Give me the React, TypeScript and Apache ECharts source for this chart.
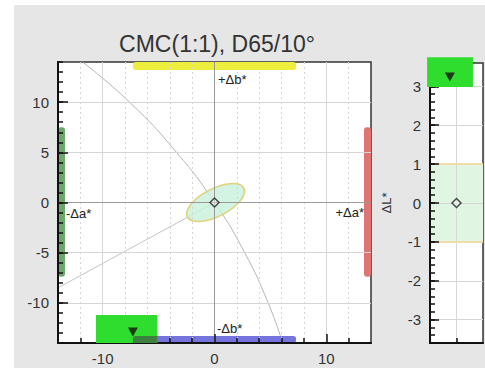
import React, { useEffect, useRef } from "react";
import * as echarts from "echarts";

// ---------- data ----------
const TITLE = "CMC(1:1), D65/10°";
// Δa*/Δb* plane
const AB_MIN = -14;
const AB_MAX = 14;
const X_MAJOR = [-10, 0, 10];
const X_MINOR = [-12, -8, -6, -4, -2, 2, 4, 6, 8, 12];
const Y_MAJOR = [-10, -5, 0, 5, 10];
const SAMPLE_AB = [0, 0];
// constant-chroma arc
const ARC_X = [-11.8, -7.6, -3.4, 0, 2.7, 4.8, 6.1];
const ARC_Y = [14, 10, 5, 0, -5, -10, -14];
// hue line towards the a*b* origin
const HUE_X = [-14, 0];
const HUE_Y = [-8.5, 0];
// tolerance ellipse
const ELLIPSE_CENTER = [0.1, 0];
const ELLIPSE_SEMI = [2.9, 1.35];
const ELLIPSE_ANGLE_DEG = 31;
// direction bars: side 0=+Δb* (top) 1=-Δb* (bottom) 2=-Δa* (left) 3=+Δa* (right)
const BAR_LO = [-7.3, -7.3, -7.4, -7.4];
const BAR_HI = [7.3, 7.3, 7.5, 7.5];
const DIR_LABELS = ["+Δb*", "-Δb*", "-Δa*", "+Δa*"];
// fail box & point in plane: [x0, x1, y0, y1]
const FAIL_BOX_AB = [-10.6, -5.1, -14, -11.2];
const FAIL_POINT_AB = [-7.3, -12.9];
// ΔL* panel
const L_MIN = -3.6;
const L_MAX = 3.6;
const L_MAJOR = [-3, -2, -1, 0, 1, 2, 3];
const L_TOL = [-1, 1];
const SAMPLE_L = [0, 0];
const FAIL_BOX_L = [-1.11, 0.62, 2.98, 3.75];
const FAIL_POINT_L = [-0.25, 3.24];

// ---------- style ----------
const FONT = "'Liberation Sans', Arial, sans-serif";
const G1 = { left: 58, top: 62, width: 313, height: 281 };
const G2 = { left: 430, top: 63, width: 53, height: 280 };
const BAR_T = [8, 7, 7, 7];
const BAR_COLORS = ["#eeee3c", "#7474dc", "#6aa86c", "#e07474"];
const AXIS_DARK = "#111";
const GRID_LINE = "#d6d6d6";

export default function App() {
  const ref = useRef<HTMLDivElement>(null);
  useEffect(() => {
    document.body.style.margin = "0";
    if (!ref.current) return;
    const chart = echarts.init(ref.current, undefined, { renderer: "svg" });

    const axisLabel = (vals: number[]) => ({
      customValues: vals,
      fontSize: 15,
      color: "#333",
      fontFamily: FONT,
      margin: 8,
    });
    const dirText = (text: string, x: number, y: number, align: string) => ({
      type: "text", x, y, z: 10,
      style: { text, fontSize: 13, fill: "#222", align, verticalAlign: "middle", fontFamily: FONT },
    });

    const option: any = {
      animation: false,
      backgroundColor: "#ffffff",
      graphic: [
        { type: "rect", z: -10, shape: { x: 14, y: 5, width: 471, height: 363 }, style: { fill: "#e6e6e6" } },
        {
          type: "text", x: 217, y: 44, z: 10,
          style: { text: TITLE, fontSize: 23, fill: "#333", align: "center", verticalAlign: "middle", fontFamily: FONT },
        },
        dirText(DIR_LABELS[0], 218, 79, "left"),
        dirText(DIR_LABELS[1], 217, 328, "left"),
        dirText(DIR_LABELS[2], 66, 213, "left"),
        dirText(DIR_LABELS[3], 364, 212, "right"),
      ],
      grid: [
        { ...G1, show: true, backgroundColor: "#fff", borderColor: "#333", borderWidth: 1.5 },
        { ...G2, show: true, backgroundColor: "#fff", borderColor: "#333", borderWidth: 1.5 },
      ],
      xAxis: [
        {
          gridIndex: 0, type: "value", position: "bottom", min: AB_MIN, max: AB_MAX, z: 5,
          axisLine: { show: true, onZero: false, lineStyle: { color: AXIS_DARK, width: 2 } },
          axisTick: { show: true, customValues: X_MAJOR, inside: true, length: 9, lineStyle: { color: AXIS_DARK, width: 1.5 } },
          axisLabel: axisLabel(X_MAJOR),
          splitLine: { show: true, lineStyle: { color: GRID_LINE, width: 1 } },
        },
        {
          gridIndex: 0, type: "value", position: "bottom", min: AB_MIN, max: AB_MAX, z: 5,
          axisLine: { show: false, onZero: false },
          axisTick: { show: true, customValues: X_MINOR, inside: true, length: 5, lineStyle: { color: AXIS_DARK, width: 1.5 } },
          axisLabel: { show: false },
          splitLine: { show: true, lineStyle: { color: GRID_LINE, width: 1, type: [2, 3] } },
        },
        {
          gridIndex: 1, type: "value", position: "bottom", min: -1, max: 1, z: 5,
          axisLine: { show: true, onZero: false, lineStyle: { color: AXIS_DARK, width: 2 } },
          axisTick: { show: true, customValues: [0], inside: true, length: 5, lineStyle: { color: AXIS_DARK, width: 1.5 } },
          axisLabel: { show: false },
          splitLine: { show: true, lineStyle: { color: GRID_LINE, width: 1 } },
        },
      ],
      yAxis: [
        {
          gridIndex: 0, type: "value", position: "left", min: AB_MIN, max: AB_MAX, z: 5,
          axisLine: { show: true, onZero: false, lineStyle: { color: AXIS_DARK, width: 2 } },
          axisTick: { show: true, customValues: Y_MAJOR, inside: true, length: 10, lineStyle: { color: AXIS_DARK, width: 1.5 } },
          axisLabel: { ...axisLabel(Y_MAJOR), margin: 9 },
          splitLine: { show: true, lineStyle: { color: GRID_LINE, width: 1 } },
        },
        {
          gridIndex: 0, type: "value", position: "left", min: AB_MIN, max: AB_MAX, interval: 1, z: 5,
          axisLine: { show: false, onZero: false },
          axisTick: { show: true, inside: true, length: 5, lineStyle: { color: AXIS_DARK, width: 1.5 } },
          axisLabel: { show: false },
          splitLine: { show: false },
        },
        {
          gridIndex: 1, type: "value", position: "left", min: L_MIN, max: L_MAX, z: 5,
          name: "ΔL*", nameLocation: "middle", nameGap: 37, nameRotate: 90,
          nameTextStyle: { fontSize: 13, color: "#333", fontFamily: FONT },
          axisLine: { show: true, onZero: false, lineStyle: { color: AXIS_DARK, width: 2 } },
          axisTick: { show: true, customValues: L_MAJOR, inside: true, length: 9, lineStyle: { color: AXIS_DARK, width: 1.5 } },
          axisLabel: { ...axisLabel(L_MAJOR), margin: 9 },
          splitLine: { show: true, lineStyle: { color: GRID_LINE, width: 1 } },
        },
        {
          gridIndex: 1, type: "value", position: "left", min: L_MIN, max: L_MAX, interval: 0.2, z: 5,
          axisLine: { show: false, onZero: false },
          axisTick: { show: true, inside: true, length: 5, lineStyle: { color: AXIS_DARK, width: 1.5 } },
          axisLabel: { show: false },
          splitLine: { show: false },
        },
      ],
      series: [
        // chroma arc
        {
          type: "line", xAxisIndex: 0, yAxisIndex: 0, smooth: true, symbol: "none",
          data: ARC_X.map((x, i) => [x, ARC_Y[i]]),
          lineStyle: { color: "#b5b5b5", width: 1 }, z: 1,
        },
        // hue line
        {
          type: "line", xAxisIndex: 0, yAxisIndex: 0, symbol: "none",
          data: HUE_X.map((x, i) => [x, HUE_Y[i]]),
          lineStyle: { color: "#c4c4c4", width: 1 }, z: 1,
        },
        // direction bars
        {
          type: "custom", xAxisIndex: 0, yAxisIndex: 0, z: 2,
          data: BAR_LO.map((lo, i) => [lo, BAR_HI[i], i]),
          renderItem: (params: any, api: any) => {
            const cs = params.coordSys;
            const lo = api.value(0), hi = api.value(1), side = api.value(2);
            let shape: any;
            if (side === 0 || side === 1) {
              const a = api.coord([lo, 0])[0], b = api.coord([hi, 0])[0];
              const y = side === 0 ? cs.y : cs.y + cs.height - BAR_T[side];
              shape = { x: a, y, width: b - a, height: BAR_T[side], r: 3 };
            } else {
              const a = api.coord([0, hi])[1], b = api.coord([0, lo])[1];
              const x = side === 2 ? cs.x : cs.x + cs.width - BAR_T[side];
              shape = { x, y: a, width: BAR_T[side], height: b - a, r: 3 };
            }
            return { type: "rect", shape, style: { fill: BAR_COLORS[side] } };
          },
        },
        // zero lines
        {
          type: "line", xAxisIndex: 0, yAxisIndex: 0, data: [], z: 3,
          markLine: {
            silent: true, symbol: "none", label: { show: false },
            lineStyle: { color: "#9a9a9a", width: 1, type: "solid" },
            data: [{ xAxis: 0 }, { yAxis: 0 }],
          },
        },
        // tolerance ellipse
        {
          type: "custom", xAxisIndex: 0, yAxisIndex: 0, z: 4,
          data: [ELLIPSE_CENTER],
          renderItem: (params: any, api: any) => {
            const c = api.coord([api.value(0), api.value(1)]);
            const s = api.size([1, 1]);
            return {
              type: "group", x: c[0], y: c[1], scaleX: s[0], scaleY: s[1],
              children: [
                {
                  type: "ellipse",
                  rotation: (ELLIPSE_ANGLE_DEG * Math.PI) / 180,
                  shape: { cx: 0, cy: 0, rx: ELLIPSE_SEMI[0], ry: ELLIPSE_SEMI[1] },
                  style: { fill: "rgba(200,240,220,0.8)", stroke: "#e2d27c", lineWidth: 0.15 },
                },
              ],
            };
          },
        },
        // fail box (plane)
        {
          type: "custom", xAxisIndex: 0, yAxisIndex: 0, z: 6, clip: false,
          data: [FAIL_BOX_AB],
          renderItem: (params: any, api: any) => {
            const cs = params.coordSys;
            const p0 = api.coord([api.value(0), api.value(3)]);
            const p1 = api.coord([api.value(1), api.value(2)]);
            const box = { x: p0[0], y: p0[1], width: p1[0] - p0[0], height: p1[1] - p0[1] };
            const bx0 = api.coord([BAR_LO[1], 0])[0], bx1 = api.coord([BAR_HI[1], 0])[0];
            const by0 = cs.y + cs.height - BAR_T[1], by1 = cs.y + cs.height;
            const ix0 = Math.max(box.x, bx0), ix1 = Math.min(box.x + box.width, bx1);
            const iy0 = Math.max(box.y, by0), iy1 = Math.min(box.y + box.height, by1);
            const children: any[] = [{ type: "rect", shape: box, style: { fill: "#2edd2e" } }];
            if (ix1 > ix0 && iy1 > iy0) {
              children.push({ type: "rect", shape: { x: ix0, y: iy0, width: ix1 - ix0, height: iy1 - iy0, r: [3, 0, 0, 0] }, style: { fill: "#3c823e" } });
            }
            return { type: "group", children };
          },
        },
        {
          type: "scatter", xAxisIndex: 0, yAxisIndex: 0, z: 7,
          data: [FAIL_POINT_AB], symbol: "triangle", symbolRotate: 180, symbolSize: [10, 9],
          itemStyle: { color: "#151010" },
        },
        {
          type: "scatter", xAxisIndex: 0, yAxisIndex: 0, z: 7,
          data: [SAMPLE_AB], symbol: "diamond", symbolSize: 9,
          itemStyle: { color: "rgba(255,255,255,0.5)", borderColor: "#222", borderWidth: 1.5 },
        },
        // ΔL* panel
        {
          type: "line", xAxisIndex: 2, yAxisIndex: 2, data: [], z: 1,
          markArea: {
            silent: true,
            itemStyle: { color: "#e0f5e2" },
            data: [[{ yAxis: L_TOL[0] }, { yAxis: L_TOL[1] }]],
          },
          markLine: {
            silent: true, symbol: "none", label: { show: false },
            lineStyle: { color: "#f2dcaa", width: 2, type: "solid" },
            data: L_TOL.map((v) => ({ yAxis: v })),
          },
        },
        {
          type: "custom", xAxisIndex: 2, yAxisIndex: 2, z: 6, clip: false,
          data: [FAIL_BOX_L],
          renderItem: (params: any, api: any) => {
            const p0 = api.coord([api.value(0), api.value(3)]);
            const p1 = api.coord([api.value(1), api.value(2)]);
            return {
              type: "rect",
              shape: { x: p0[0], y: p0[1], width: p1[0] - p0[0], height: p1[1] - p0[1] },
              style: { fill: "#2edd2e" },
            };
          },
        },
        {
          type: "scatter", xAxisIndex: 2, yAxisIndex: 2, z: 7,
          data: [FAIL_POINT_L], symbol: "triangle", symbolRotate: 180, symbolSize: [10, 9],
          itemStyle: { color: "#151010" },
        },
        {
          type: "scatter", xAxisIndex: 2, yAxisIndex: 2, z: 7,
          data: [SAMPLE_L], symbol: "diamond", symbolSize: 9,
          itemStyle: { color: "rgba(255,255,255,0.5)", borderColor: "#222", borderWidth: 1.5 },
        },
      ],
    };
    chart.setOption(option);
    return () => chart.dispose();
  }, []);
  return <div ref={ref} style={{ width: 485, height: 368 }} />;
}
